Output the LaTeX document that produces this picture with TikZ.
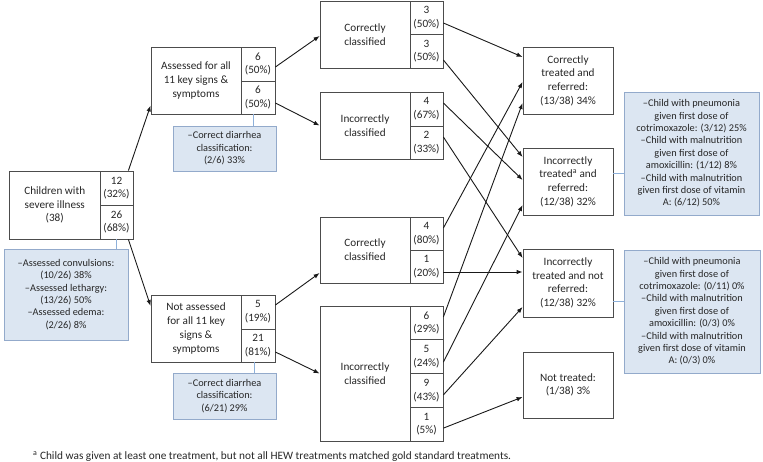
\documentclass[tikz,border=0pt]{standalone}
\usepackage{fontspec}
\setmainfont{Carlito}
\usetikzlibrary{arrows.meta,shadows,calc}
\definecolor{notefill}{HTML}{DCE6F2}
\definecolor{noteedge}{HTML}{93AACB}
\definecolor{nlinec}{HTML}{8DB0DA}
\definecolor{txt}{HTML}{262626}
\begin{document}
\begin{tikzpicture}[x=1pt,y=-1pt,
  box/.style={draw=black!70, line width=0.8pt, inner sep=1pt, align=center,
    font=\fontsize{11.2}{13.7}\selectfont, text=txt},
  wh/.style 2 args={minimum width=#1pt, minimum height=#2pt},
  note/.style={draw=noteedge, fill=notefill, line width=0.8pt, inner sep=1pt, align=center,
    font=\fontsize{10.3}{12.4}\selectfont, text=txt,
    drop shadow={shadow xshift=1.2pt, shadow yshift=-1.2pt, opacity=0.3}},
  arr/.style={-{Latex[length=6pt,width=4.5pt]}, line width=0.9pt, black!90},
  nline/.style={draw=nlinec, line width=0.8pt}]
\useasboundingbox (0,0) rectangle (763,462);

% column 1
\node[box, wh={90.5}{68}] (root) at (54.75,205) {Children with\\severe illness\\(38)};
\node[box, wh={33}{34}] (rA) at (116.5,188) {12\\(32\%)};
\node[box, wh={33}{34}] (rB) at (116.5,222) {26\\(68\%)};
\node[note, wh={124}{91}] (rn) at (66,294.5) {–Assessed convulsions:\\(10/26) 38\%\\–Assessed lethargy:\\(13/26) 50\%\\–Assessed edema:\\(2/26) 8\%};

% column 2
\node[box, wh={90}{67}] (as) at (196,80.5) {Assessed for all\\11 key signs \&\\symptoms};
\node[box, wh={34}{34}] (aA) at (258,64) {6\\(50\%)};
\node[box, wh={34}{33}] (aB) at (258,97.5) {6\\(50\%)};
\node[note, wh={103}{45}] (n1) at (224.5,148.5) {–Correct diarrhea\\classification:\\(2/6) 33\%};

\node[box, wh={90}{67}] (na) at (196,328.5) {Not assessed\\for all 11 key\\signs \&\\symptoms};
\node[box, wh={34}{34}] (naA) at (258,312) {5\\(19\%)};
\node[box, wh={34}{33}] (naB) at (258,345.5) {21\\(81\%)};
\node[note, wh={103}{46}] (n2) at (224.5,396) {–Correct diarrhea\\classification:\\(6/21) 29\%};

% column 3
\node[box, wh={90}{67}] (cc1) at (365,34.5) {Correctly\\classified};
\node[box, wh={33}{33}] (cc1A) at (426.5,17.5) {3\\(50\%)};
\node[box, wh={33}{34}] (cc1B) at (426.5,51) {3\\(50\%)};

\node[box, wh={90}{67}] (ic1) at (365,125.5) {Incorrectly\\classified};
\node[box, wh={33}{34}] (ic1A) at (426.5,109) {4\\(67\%)};
\node[box, wh={33}{33}] (ic1B) at (426.5,142.5) {2\\(33\%)};

\node[box, wh={90}{66}] (cc2) at (365,250) {Correctly\\classified};
\node[box, wh={33}{33}] (cc2A) at (426.5,233.5) {4\\(80\%)};
\node[box, wh={33}{33}] (cc2B) at (426.5,266.5) {1\\(20\%)};

\node[box, wh={90}{135}] (ic2) at (365,373.5) {Incorrectly\\classified};
\node[box, wh={33}{33.75}] (ic2A) at (426.5,322.875) {6\\(29\%)};
\node[box, wh={33}{33.75}] (ic2B) at (426.5,356.625) {5\\(24\%)};
\node[box, wh={33}{33.75}] (ic2C) at (426.5,390.375) {9\\(43\%)};
\node[box, wh={33}{33.75}] (ic2D) at (426.5,424.125) {1\\(5\%)};

% column 4
\node[box, wh={90}{67}] (ct) at (568,80.5) {Correctly\\treated and\\referred:\\(13/38) 34\%};
\node[box, wh={90}{67}] (itr) at (568,181.5) {Incorrectly\\treated\textsuperscript{a} and\\referred:\\(12/38) 32\%};
\node[box, wh={90}{68}] (itnr) at (568,283) {Incorrectly\\treated and not\\referred:\\(12/38) 32\%};
\node[box, wh={90}{66}] (nt) at (568,385) {Not treated:\\(1/38) 3\%};

\node[note, wh={135}{123}] (nA) at (691.5,153.5) {–Child with pneumonia\\given first dose of\\cotrimoxazole: (3/12) 25\%\\–Child with malnutrition\\given first dose of\\amoxicillin: (1/12) 8\%\\–Child with malnutrition\\given first dose of vitamin\\A: (6/12) 50\%};
\node[note, wh={136}{123}] (nB) at (692,311.5) {–Child with pneumonia\\given first dose of\\cotrimoxazole: (0/11) 0\%\\–Child with malnutrition\\given first dose of\\amoxicillin: (0/3) 0\%\\–Child with malnutrition\\given first dose of vitamin\\A: (0/3) 0\%};

% footnote
\node[anchor=west, inner sep=0pt, text=txt, font=\fontsize{11.3}{13}\selectfont] (fn) at (33,457) {\textsuperscript{a} Child was given at least one treatment, but not all HEW treatments matched gold standard treatments.};

% note connectors
\coordinate (k1) at ([xshift=-5pt]aB.south);
\draw[nline] (k1) -- (k1 |- n1.north);
\draw[nline] (rB.south) -- (rB.south |- rn.north);
\coordinate (k2) at ([xshift=-4pt]naB.south);
\draw[nline] (k2) -- (k2 |- n2.north);
\coordinate (k3) at ([yshift=8.5pt]itr.east);
\draw[nline] (k3) -- (k3 -| nA.west);
\coordinate (k4) at ([yshift=-18pt]itnr.east);
\draw[nline] (k4) -- (k4 -| nB.west);

% arrows
\draw[arr] ([xshift=-5pt]rA.north east) -- ([yshift=-25pt]as.west);
\draw[arr] ([xshift=-5pt]rB.south east) -- ([yshift=22.5pt]na.west);
\draw[arr] ([yshift=-3pt]aA.east) -- ([yshift=-1.5pt]cc1.west);
\draw[arr] ([yshift=-5.5pt]aB.east) -- (ic1.west);
\draw[arr] ([yshift=7pt]naA.east) -- ([yshift=-23pt]cc2.west);
\draw[arr] ([yshift=-6.5pt]naB.east) -- (ic2.west);

\draw[arr] ([yshift=-5.5pt]cc1A.east) -- ([yshift=23.5pt]ct.west);
\draw[arr] ([yshift=-9pt]cc1B.east) -- ([yshift=24.5pt]itr.west);
\draw[arr] ([yshift=6pt]ic1A.east) -- ([yshift=1.5pt]itr.west);
\draw[arr] ([yshift=5.5pt]ic1B.east) -- ([yshift=25pt]itnr.west);
\draw[arr] ([yshift=5.5pt]cc2A.east) -- ([yshift=-1.5pt]ct.west);
\coordinate (k5) at ([yshift=-5.5pt]cc2B.east);
\draw[arr] (k5) -- (k5 -| itnr.west);
\draw[arr] ([yshift=6pt]ic2A.east) -- ([yshift=-22.5pt]ct.west);
\draw[arr] ([yshift=-5.5pt]ic2B.east) -- ([yshift=-23.5pt]itr.west);
\draw[arr] ([yshift=-4.5pt]ic2C.east) -- ([yshift=-24pt]itnr.west);
\draw[arr] ([yshift=-4pt]ic2D.east) -- ([yshift=-12pt]nt.west);
\end{tikzpicture}
\end{document}
